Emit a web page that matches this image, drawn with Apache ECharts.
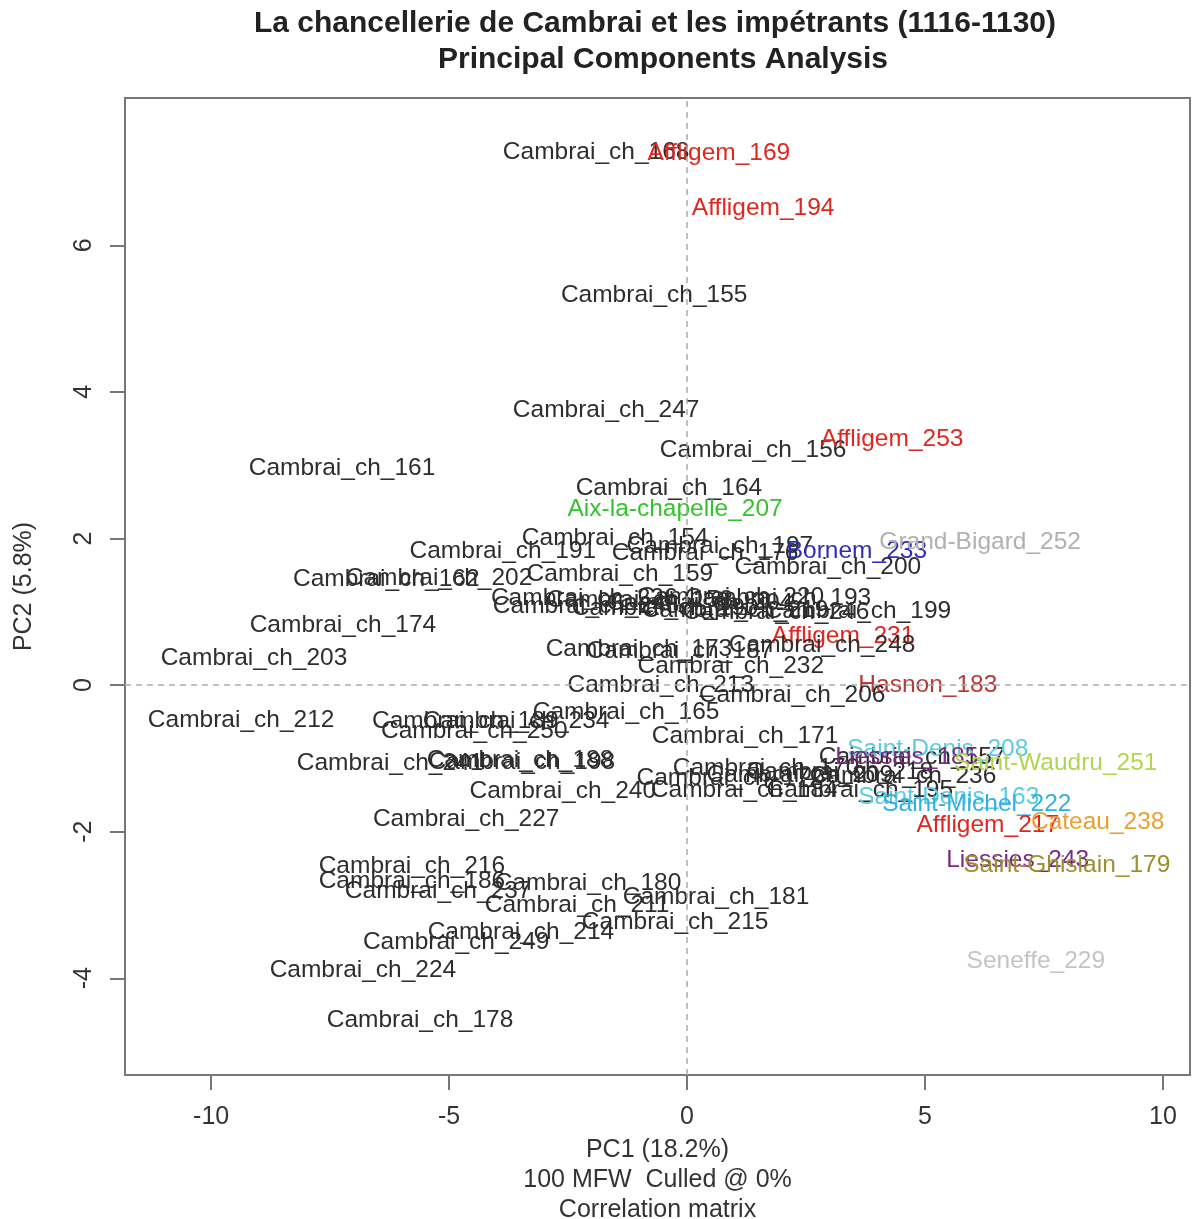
<!DOCTYPE html>
<html>
<head>
<meta charset="utf-8">
<script src="https://cdn.jsdelivr.net/npm/echarts@6/dist/echarts.min.js"></script>
<style>
html,body{margin:0;padding:0;background:#fff;overflow:hidden;}
#chart{position:absolute;left:0;top:0;width:1193px;height:1219px;}
</style>
</head>
<body>
<div id="chart"></div>
<script>
// ---- data ----
const labels = [
  "Cambrai_ch_168","Affligem_169","Affligem_194","Cambrai_ch_155","Cambrai_ch_247",
  "Cambrai_ch_156","Affligem_253","Cambrai_ch_161","Cambrai_ch_164","Aix-la-chapelle_207",
  "Cambrai_ch_154","Cambrai_ch_191","Cambrai_ch_197","Cambrai_ch_176","Bornem_233",
  "Grand-Bigard_252","Cambrai_ch_200","Cambrai_ch_159","Cambrai_ch_162","Cambrai_ch_202",
  "Cambrai_ch_226","Cambrai_ch_245","Cambrai_ch_158","Cambrai_ch_190","Cambrai_ch_204",
  "Cambrai_ch_219","Cambrai_ch_220","Cambrai_ch_193","Cambrai_ch_246","Cambrai_ch_199",
  "Cambrai_ch_174","Cambrai_ch_203","Affligem_231","Cambrai_ch_248","Cambrai_ch_173",
  "Cambrai_ch_187","Cambrai_ch_232","Cambrai_ch_213","Hasnon_183","Cambrai_ch_206",
  "Cambrai_ch_165","Cambrai_ch_212","Cambrai_ch_189","Cambrai_ch_234","Cambrai_ch_250",
  "Cambrai_ch_171","Cambrai_ch_241","Cambrai_ch_188","Cambrai_ch_198","Cambrai_ch_240",
  "Cambrai_ch_170","Cambrai_ch_172","Cambrai_ch_184","Cambrai_ch_209","Cambrai_ch_218",
  "Cambrai_ch_195","Cambrai_ch_157","Cambrai_ch_236","Saint-Denis_208","Liessies_185",
  "Saint-Waudru_251","Saint-Denis_163","Saint-Michel_222","Affligem_217","Cateau_238",
  "Liessies_243","Saint-Ghislain_179","Cambrai_ch_227","Cambrai_ch_216","Cambrai_ch_186",
  "Cambrai_ch_237","Cambrai_ch_180","Cambrai_ch_211","Cambrai_ch_181","Cambrai_ch_215",
  "Cambrai_ch_214","Cambrai_ch_249","Cambrai_ch_224","Cambrai_ch_178","Seneffe_229"
];
const pc1 = [
  -1.91, 0.67, 1.60, -0.69, -1.70,
  1.39, 4.31, -7.25, -0.38, -0.25,
  -1.51, -3.87, 0.69, 0.38, 3.57,
  6.16, 2.96, -1.41, -6.32, -5.21,
  -2.16, -2.12, -0.99, -0.46, 0.27,
  1.01, 0.92, 1.91, 1.87, 3.59,
  -7.23, -9.10, 3.28, 2.84, -1.01,
  -0.15, 0.92, -0.55, 5.06, 2.21,
  -1.28, -9.37, -4.66, -3.59, -4.47,
  1.22, -6.24, -3.51, -3.47, -2.61,
  1.66, 0.90, 1.20, 2.37, 3.21,
  3.63, 4.73, 4.54, 5.27, 4.62,
  7.75, 5.50, 6.09, 6.32, 8.63,
  6.95, 7.98, -4.64, -5.78, -5.78,
  -5.23, -2.08, -2.31, 0.61, -0.25,
  -3.49, -4.85, -6.81, -5.61, 7.33
];
const pc2 = [
  7.27, 7.26, 6.51, 5.32, 3.75,
  3.21, 3.36, 2.96, 2.69, 2.40,
  2.01, 1.83, 1.90, 1.80, 1.83,
  1.95, 1.61, 1.51, 1.45, 1.46,
  1.19, 1.08, 1.16, 1.05, 1.11,
  1.02, 1.20, 1.19, 1.00, 1.01,
  0.82, 0.37, 0.67, 0.55, 0.49,
  0.46, 0.26, 0.00, 0.00, -0.14,
  -0.37, -0.48, -0.50, -0.50, -0.63,
  -0.70, -1.06, -1.02, -1.05, -1.45,
  -1.13, -1.27, -1.43, -1.23, -1.19,
  -1.43, -0.98, -1.24, -0.87, -0.98,
  -1.06, -1.53, -1.62, -1.91, -1.87,
  -2.39, -2.46, -1.83, -2.47, -2.67,
  -2.81, -2.71, -3.00, -2.89, -3.23,
  -3.37, -3.51, -3.89, -4.57, -3.77
];
const xTicks = [-10, -5, 0, 5, 10];
const yTicks = [-4, -2, 0, 2, 4, 6];
const titleLines = ["La chancellerie de Cambrai et les impétrants (1116-1130)", "Principal Components Analysis"];
const xName = "PC1 (18.2%)\n100 MFW  Culled @ 0%\nCorrelation matrix";
const yName = "PC2 (5.8%)";

// ---- styles ----
const groupColors = {
  "Cambrai_ch": "#2e2e2e",
  "Affligem": "#e0261f",
  "Aix-la-chapelle": "#36c22e",
  "Grand-Bigard": "#b0b0b0",
  "Bornem": "#2e2eb5",
  "Hasnon": "#b83a38",
  "Saint-Denis": "#5ccbe0",
  "Saint-Waudru": "#b0d650",
  "Saint-Michel": "#30b0e6",
  "Cateau": "#eaa030",
  "Liessies": "#7a2a80",
  "Saint-Ghislain": "#9c902e",
  "Seneffe": "#c4c4c4"
};
function colorOf(n) {
  const g = n.substring(0, n.lastIndexOf("_"));
  return groupColors[g] || "#2e2e2e";
}
const FONT = "'Liberation Sans', Arial, Helvetica, sans-serif";

const data = labels.map((n, i) => ({
  name: n,
  value: [pc1[i], pc2[i]],
  label: { color: colorOf(n) }
}));

const chart = echarts.init(document.getElementById("chart"), null, { renderer: "canvas", width: 1193, height: 1219 });
chart.setOption({
  animation: false,
  backgroundColor: "#ffffff",
  textStyle: { fontFamily: FONT },
  grid: { left: 125, top: 98, width: 1065, height: 977, outerBoundsMode: "none", containLabel: false, show: true, borderColor: "#777777", borderWidth: 2, backgroundColor: "transparent" },
  xAxis: {
    type: "value", min: -11.81, max: 10.57,
    axisLine: { show: false, onZero: false },
    splitLine: { show: false },
    axisTick: { show: true, customValues: xTicks, length: 15, lineStyle: { color: "#777777", width: 2 } },
    axisLabel: { customValues: xTicks, fontSize: 25, color: "#333333", margin: 30, fontFamily: FONT },
    name: xName, nameLocation: "middle", nameGap: 58,
    nameTextStyle: { fontSize: 25, lineHeight: 30, color: "#333333", fontFamily: FONT }
  },
  yAxis: {
    type: "value", min: -5.32, max: 8.01,
    axisLine: { show: false, onZero: false },
    splitLine: { show: false },
    axisTick: { show: true, customValues: yTicks, length: 15, lineStyle: { color: "#777777", width: 2 } },
    axisLabel: { customValues: yTicks, fontSize: 25, color: "#333333", margin: 28, rotate: 90, fontFamily: FONT },
    name: yName, nameLocation: "middle", nameGap: 88, nameRotate: 90,
    nameTextStyle: { fontSize: 25, color: "#333333", fontFamily: FONT }
  },
  graphic: [
    { type: "text", x: 655, y: 24, style: { text: titleLines[0], fill: "#222", font: "bold 30px " + FONT, textAlign: "center", textVerticalAlign: "middle" } },
    { type: "text", x: 663, y: 60, style: { text: titleLines[1], fill: "#222", font: "bold 30px " + FONT, textAlign: "center", textVerticalAlign: "middle" } }
  ],
  series: [{
    type: "scatter",
    symbolSize: 1,
    itemStyle: { color: "rgba(0,0,0,0)", opacity: 1 },
    data: data,
    label: { show: true, position: "inside", formatter: "{b}", fontSize: 24.5, fontFamily: FONT, opacity: 1, textBorderWidth: 0 },
    emphasis: { disabled: true },
    markLine: {
      silent: true, symbol: "none",
      label: { show: false },
      lineStyle: { type: [6, 5], color: "#aaaaaa", width: 1.5, opacity: 1 },
      data: [{ xAxis: 0 }, { yAxis: 0 }]
    }
  }]
});
</script>
</body>
</html>
